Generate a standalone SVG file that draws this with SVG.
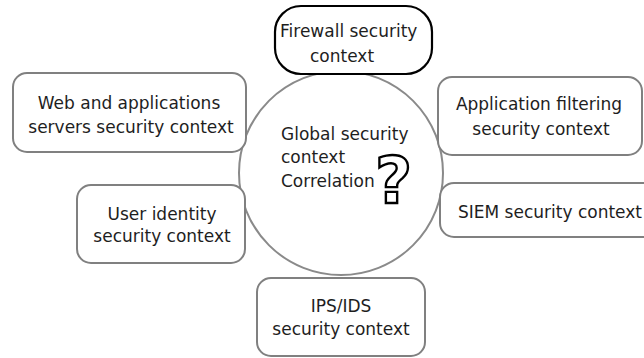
<svg xmlns="http://www.w3.org/2000/svg" width="644" height="358" viewBox="0 0 644 358">
  <style>
    .box { fill: #ffffff; stroke: #808080; stroke-width: 2; }
    .hub { fill: #ffffff; stroke: #8a8a8a; stroke-width: 2; }
    .fw { fill: #ffffff; stroke: #000000; stroke-width: 2.2; }
    text { font-family: "DejaVu Sans", Verdana, sans-serif; font-size: 17px; fill: #1e1e1e; }
    .c { text-anchor: middle; }
    .q { font-size: 64px; font-weight: bold; fill: #ffffff; stroke: #000000; stroke-width: 2.4; }
  </style>

  <!-- central correlation circle, drawn first so the boxes sit on top -->
  <g id="global">
    <circle class="hub" cx="341" cy="173" r="102"/>
    <text x="281" y="140">Global security</text>
    <text x="281" y="163">context</text>
    <text x="281" y="187">Correlation</text>
    <text class="q" x="375" y="203">?</text>
  </g>

  <g id="firewall">
    <rect class="fw" x="275" y="6" width="157" height="68" rx="26"/>
    <text x="280" y="37">Firewall security</text>
    <text x="310" y="62">context</text>
  </g>

  <g id="web">
    <rect class="box" x="13" y="73" width="233" height="79" rx="14"/>
    <text class="c" x="129" y="109">Web and applications</text>
    <text class="c" x="131" y="133">servers security context</text>
  </g>

  <g id="appfilter">
    <rect class="box" x="438" y="77" width="204" height="78" rx="14"/>
    <text class="c" x="539" y="110">Application filtering</text>
    <text class="c" x="541" y="135">security context</text>
  </g>

  <g id="useridentity">
    <rect class="box" x="77" y="185" width="168" height="78" rx="14"/>
    <text class="c" x="162" y="220">User identity</text>
    <text class="c" x="162" y="242">security context</text>
  </g>

  <g id="siem">
    <rect class="box" x="440" y="183" width="220" height="54" rx="14"/>
    <text x="458" y="218">SIEM security context</text>
  </g>

  <g id="ipsids">
    <rect class="box" x="257" y="278" width="168" height="78" rx="14"/>
    <text class="c" x="341" y="312">IPS/IDS</text>
    <text class="c" x="341" y="335">security context</text>
  </g>
</svg>
